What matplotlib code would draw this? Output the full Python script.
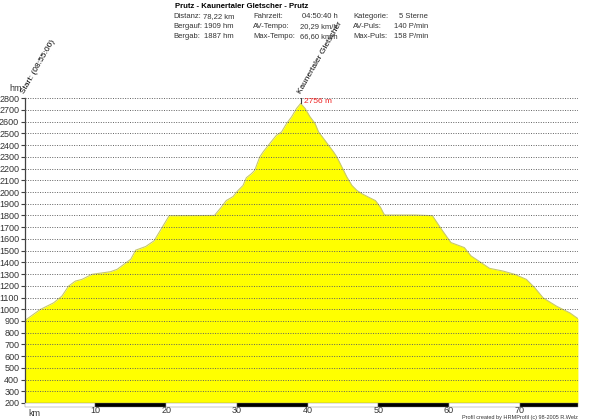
import matplotlib
matplotlib.use("Agg")
import matplotlib.pyplot as plt
from matplotlib.patches import Rectangle

plt.rcParams['font.family'] = ['Liberation Sans', 'DejaVu Sans']

# profile: distance (km) and elevation (m)
km = [0, 2.18, 4.07, 5.26, 6.2, 7.16, 8.11, 9.53, 12.13, 13.09, 15.0, 15.69,
      17.11, 18.29, 20.43, 26.83, 27.78, 28.49, 29.45, 30.16, 30.87, 31.34,
      32.05, 32.52, 33.23, 33.71, 34.65, 35.6, 36.32, 37.03, 37.74, 38.45,
      39.02, 39.63, 40.34, 41.05, 41.54, 42.25, 42.96, 43.67, 44.14, 44.85,
      45.56, 46.27, 46.98, 47.7, 48.65, 49.59, 50.3, 50.78, 51.01, 55.28,
      57.65, 58.12, 59.07, 60.26, 62.16, 63.1, 64.52, 65.72, 67.61, 69.27,
      70.92, 72.12, 73.3, 75.19, 77.1, 78.22]
elev = [903, 997, 1054, 1112, 1197, 1240, 1255, 1298, 1320, 1341, 1427, 1504,
        1535, 1584, 1798, 1800, 1870, 1927, 1961, 2013, 2056, 2122,
        2156, 2185, 2299, 2342, 2414, 2485, 2513, 2585, 2642, 2714,
        2756, 2714, 2642, 2585, 2513, 2457, 2399, 2342, 2299, 2213,
        2127, 2056, 2013, 1985, 1955, 1927, 1870, 1813, 1804, 1804,
        1798, 1755, 1670, 1569, 1526, 1455, 1398, 1349, 1326, 1298,
        1255, 1183, 1097, 1026, 968, 920]

title = "Prutz - Kaunertaler Gletscher - Prutz"
stats = [
    [("Distanz:", "78,22 km"), ("Fahrzeit:", "04:50:40 h"), ("Kategorie:", "5 Sterne")],
    [("Bergauf:", "1909 hm"), ("AV-Tempo:", "20,29 km/h"), ("AV-Puls:", "140 P/min")],
    [("Bergab:", "1887 hm"), ("Max-Tempo:", "66,60 km/h"), ("Max-Puls:", "158 P/min")],
]
start_label = "Start: (08:55:00)"
peak_label = "Kaunertaler Gletscher"
peak_km = 39.02
peak_elev = 2756

fig = plt.figure(figsize=(6, 4.2), dpi=100)
ax = fig.add_axes([0.0412, 0.0405, 0.922, 0.7255])

ax.fill_between(km, elev, 200, color='#ffff00', lw=0, zorder=1)
ax.plot(km, elev, color='#c8c86a', lw=0.8, zorder=2)

ax.set_xlim(0, 78.22)
ax.set_ylim(200, 2800)
ax.set_yticks(range(200, 2801, 100))
ax.set_xticks(range(10, 71, 10))
for y in range(300, 2801, 100):
    ax.axhline(y, color='#606060', lw=0.7, ls=(0, (1, 1.5)), zorder=3)

for s in ['top', 'right', 'bottom']:
    ax.spines[s].set_visible(False)
ax.spines['left'].set_color('#404040')
ax.spines['left'].set_linewidth(0.9)
ax.tick_params(axis='y', direction='out', length=3, width=0.8, color='#404040',
               labelsize=6.5, labelcolor='#333333', pad=1)
ax.tick_params(axis='x', length=0, labelsize=6.5, labelcolor='#333333', pad=2)

# alternating 10 km bar along the bottom
trans = ax.get_xaxis_transform()
for i in range(8):
    x0 = i * 10
    w = min(10, 78.22 - x0)
    fc = 'black' if i % 2 == 1 else 'white'
    ax.add_patch(Rectangle((x0, -0.012), w, 0.012, transform=trans, facecolor=fc,
                           edgecolor='#808080', lw=0.3, clip_on=False, zorder=4))

ax.text(0.5, -0.034, "km", transform=trans, fontsize=6.5, color='#333333', va='center')
ax.text(-0.005, 1.025, "hm", transform=ax.transAxes, fontsize=6.5, color='#333333', ha='right')

# start and peak annotations
ax.text(0.2, 2830, start_label, rotation=60, rotation_mode='anchor', fontsize=6,
        ha='left', va='bottom', clip_on=False)
ax.plot([peak_km, peak_km], [peak_elev, 2800], color='#404040', lw=0.8, zorder=4)
ax.text(peak_km + 0.3, 2830, peak_label, rotation=60, rotation_mode='anchor', fontsize=6,
        ha='left', va='bottom', clip_on=False)
ax.text(peak_km + 0.4, 2770, "%d m" % peak_elev, color='#ee2222', fontsize=6,
        va='center', zorder=5)

# header
fig.text(175 / 600, 1 - 7 / 420, title, fontsize=5.6, fontweight='bold', va='center')
label_x = [173, 253, 353]
value_x = [234, 338, 428]
for r, row in enumerate(stats):
    y = 1 - (17 + 10 * r) / 420
    for c, (lab, val) in enumerate(row):
        fig.text(label_x[c] / 600, y, lab, fontsize=5.5, color='#333333', va='center')
        fig.text(value_x[c] / 600, y, val, fontsize=5.5, color='#333333', va='center', ha='right')

fig.text(578 / 600, 1 - 418 / 420, "Profil created by HRMProfil (c) 98-2005 R.Welz",
         fontsize=4, color='#333333', ha='right', va='center')

fig.savefig("out.png", dpi=100)
